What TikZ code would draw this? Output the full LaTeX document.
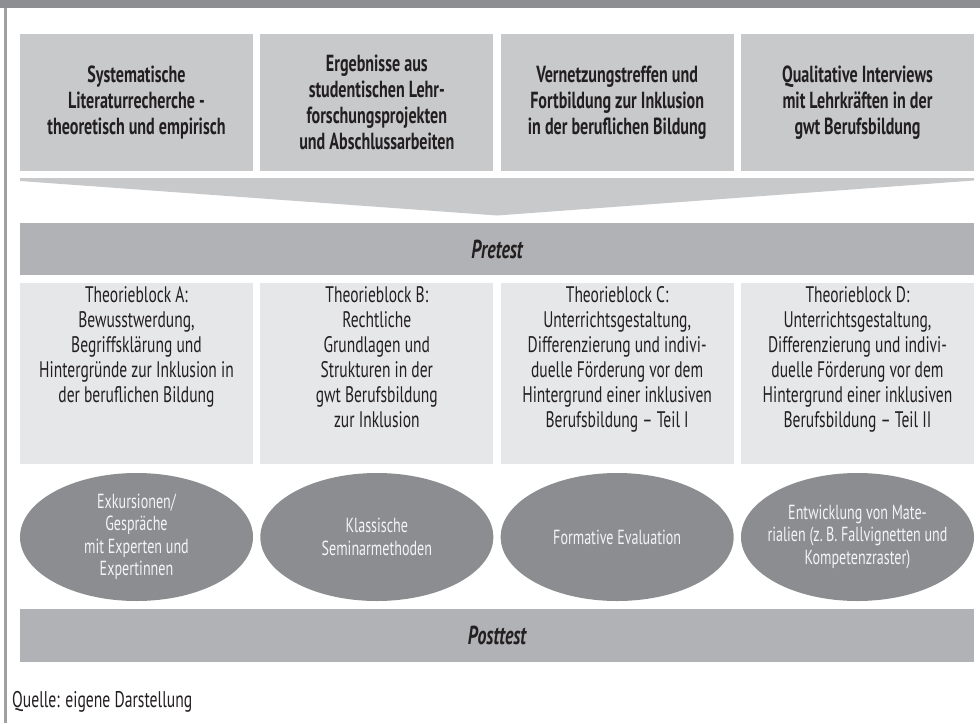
\documentclass[tikz,border=0pt]{standalone}
\usepackage{fontspec}
\setmainfont{PT Sans}[FakeStretch=0.69]
\usepackage{tikz}
\usetikzlibrary{shapes.geometric}
\usetikzlibrary{positioning}
\definecolor{topgray}{HTML}{8D8E92}
\definecolor{srcgray}{HTML}{C8C9CB}
\definecolor{bargray}{HTML}{B1B2B5}
\definecolor{theogray}{HTML}{E6E7E8}
\definecolor{ellgray}{HTML}{8C8D91}
\definecolor{linegray}{HTML}{A0A0A2}
\definecolor{txtdark}{HTML}{231F20}
\definecolor{txtlight}{HTML}{F4F4F4}
\tikzset{
    mybox/.style = {rectangle, fill=srcgray, minimum width=233pt, minimum height=137pt, inner sep=0pt, outer sep=0pt, align=center, font=\fontsize{23.3}{26}\selectfont\bfseries, text=txtdark},
    myboxt/.style = {rectangle, fill=theogray, minimum width=233pt, minimum height=181pt, inner sep=0pt, outer sep=0pt},
    mytext/.style = {align=center, inner sep=0pt, font=\fontsize{22.5}{25}\selectfont, text=txtdark},
    myell/.style = {ellipse, fill=ellgray, minimum width=233pt, minimum height=128pt, inner sep=0pt, outer sep=0pt},
    myellt/.style = {align=center, inner sep=0pt, font=\fontsize{20.4}{22.5}\selectfont, text=txtlight},
    mybar/.style = {rectangle, fill=bargray, minimum width=954pt, inner sep=0pt, outer sep=0pt, font=\fontsize{26}{28}\selectfont\bfseries\itshape, text=txtdark}
}

\begin{document}
\begin{tikzpicture}[x=1pt,y=-1pt]
  \useasboundingbox (0,0) rectangle (980,723);
  \fill[topgray] (0,0) rectangle (980,8);
  \draw[linegray, line width=2.6pt] (5.3,8) -- (5.3,723);
  % sources
  \node[mybox] (q1) at (136.5,102.5) {Systematische\\Literaturrecherche -\\theoretisch und empirisch};
  \node[mybox, right=7.33pt of q1] (q2) {Ergebnisse aus\\studentischen Lehr-\\forschungsprojekten\\und Abschlussarbeiten};
  \node[mybox, right=7.33pt of q2] (q3) {Vernetzungstreffen und\\Fortbildung zur Inklusion\\in der beruflichen Bildung};
  \node[mybox, right=7.33pt of q3] (q4) {Qualitative Interviews\\mit Lehrkräften in der\\gwt Berufsbildung};
  % funnel
  \fill[srcgray] (20,178) -- (974,178) -- (974,180.5) -- (497,215.5) -- (20,181) -- cycle;
  \node[mybar, minimum height=52pt] (pre) at (497,249) {Pretest};
  % theory blocks
  \node[myboxt] (tA) at (136.5,373.5) {};
  \node[myboxt, right=7.33pt of tA] (tB) {};
  \node[myboxt, right=7.33pt of tB] (tC) {};
  \node[myboxt, right=7.33pt of tC] (tD) {};
  \node[mytext, below=3pt of tA.north] (tAx) {Theorieblock A:\\Bewusstwerdung,\\Begriffsklärung und\\Hintergründe zur Inklusion in\\der beruflichen Bildung};
  \node[mytext, below=3pt of tB.north] (tBx) {Theorieblock B:\\Rechtliche\\Grundlagen und\\Strukturen in der\\gwt Berufsbildung\\zur Inklusion};
  \node[mytext, below=3pt of tC.north] (tCx) {Theorieblock C:\\Unterrichtsgestaltung,\\Differenzierung und indivi-\\duelle Förderung vor dem\\Hintergrund einer inklusiven\\Berufsbildung – Teil I};
  \node[mytext, below=3pt of tD.north] (tDx) {Theorieblock D:\\Unterrichtsgestaltung,\\Differenzierung und indivi-\\duelle Förderung vor dem\\Hintergrund einer inklusiven\\Berufsbildung – Teil II};
  % methods
  \node[myell] (m1) at (136.5,537) {};
  \node[myell, right=7.33pt of m1] (m2) {};
  \node[myell, right=7.33pt of m2] (m3) {};
  \node[myell, right=7.33pt of m3] (m4) {};
  \node[myellt] (m1x) at (m1) {Exkursionen/\\Gespräche\\mit Experten und\\Expertinnen};
  \node[myellt] (m2x) at (m2) {Klassische\\Seminarmethoden};
  \node[myellt] (m3x) at (m3) {Formative Evaluation};
  \node[myellt] (m4x) at (m4) {Entwicklung von Mate-\\rialien (z.\,B. Fallvignetten und\\Kompetenzraster)};
  \node[mybar, minimum height=53pt] (post) at (497,635.5) {Posttest};
  \node[anchor=base west, inner sep=0pt, font=\fontsize{22.7}{24}\selectfont, text=txtdark] (src) at (12,707) {Quelle: eigene Darstellung};
\end{tikzpicture}
\end{document}
